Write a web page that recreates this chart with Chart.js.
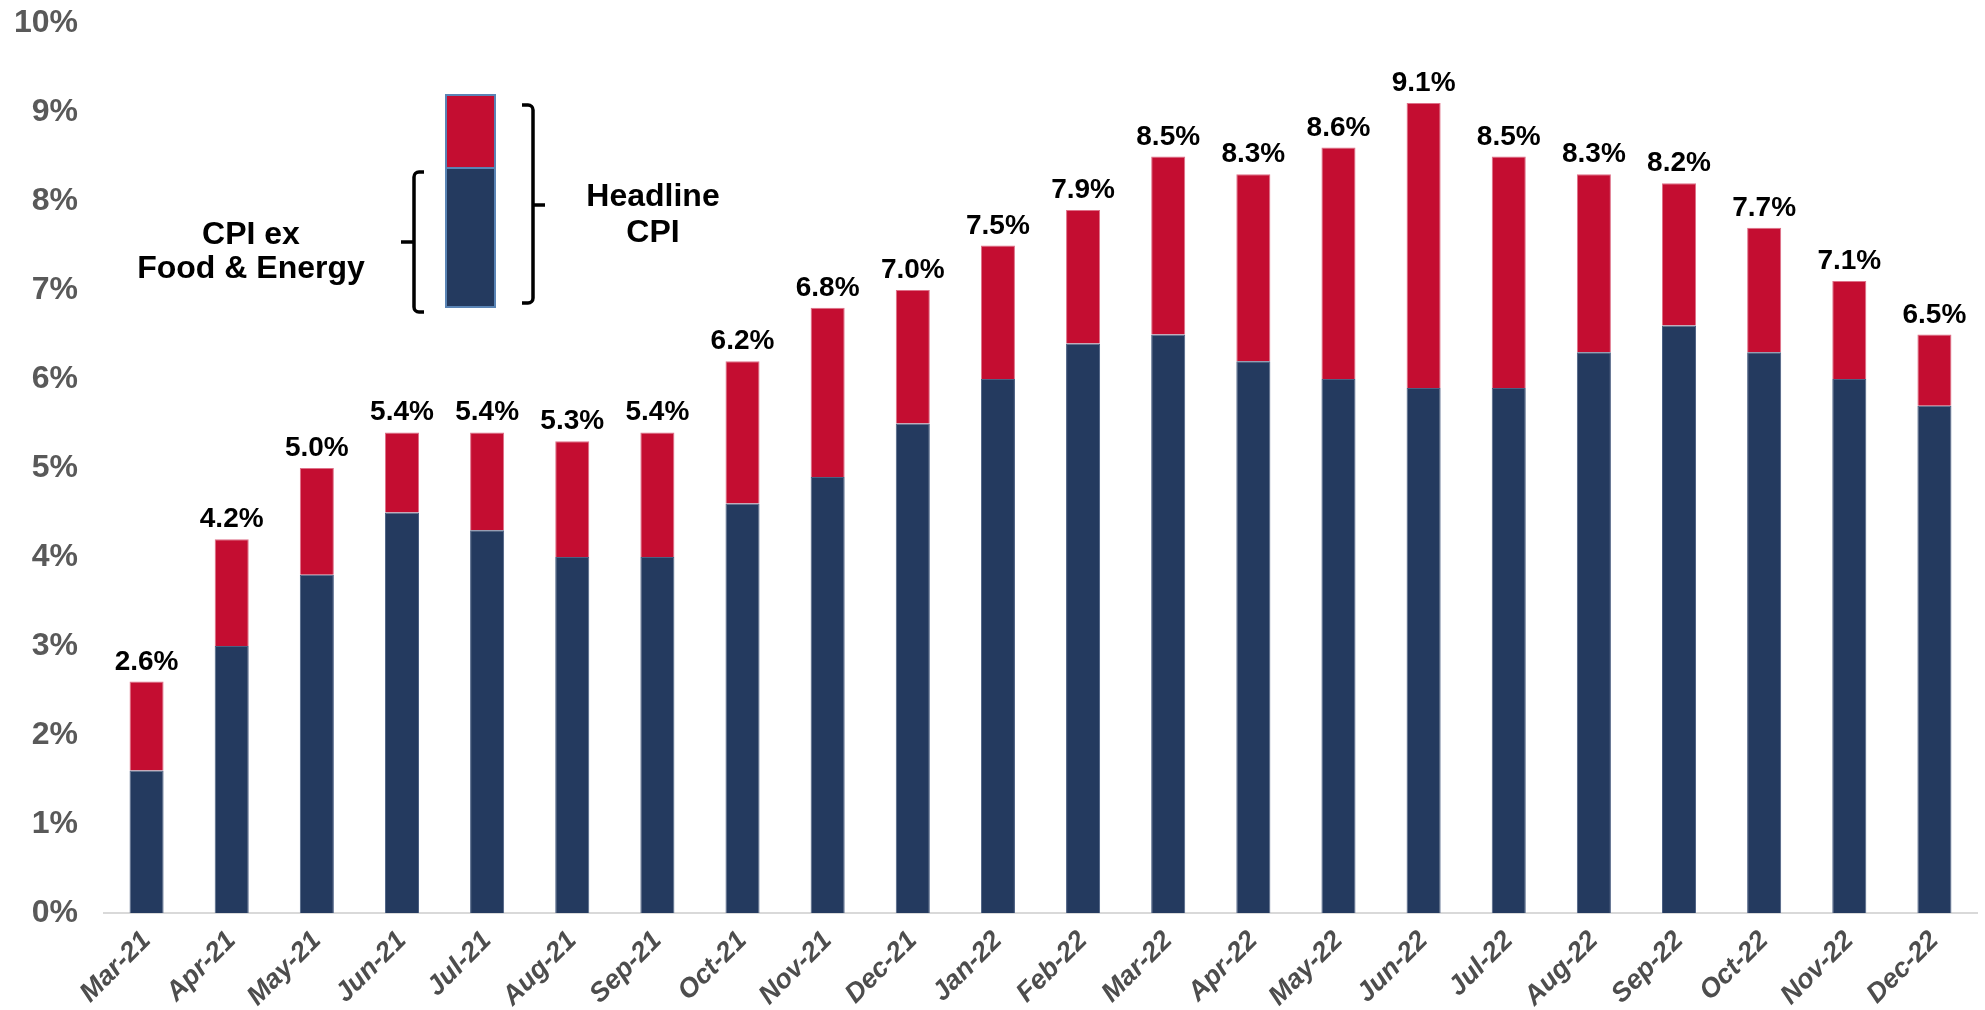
<!DOCTYPE html>
<html>
<head>
<meta charset="utf-8">
<title>Headline CPI vs Core CPI</title>
<script src="https://cdn.jsdelivr.net/npm/chart.js@4/dist/chart.umd.min.js"></script>
<style>
  html, body { margin: 0; padding: 0; background: #ffffff; }
  #wrap { width: 1985px; height: 1010px; }
</style>
</head>
<body>
<div id="wrap"><canvas id="cpiChart" width="1985" height="1010"></canvas></div>
<script>
// Monthly labels
const months = ['Mar-21', 'Apr-21', 'May-21', 'Jun-21', 'Jul-21', 'Aug-21', 'Sep-21', 'Oct-21', 'Nov-21', 'Dec-21',
  'Jan-22', 'Feb-22', 'Mar-22', 'Apr-22', 'May-22', 'Jun-22', 'Jul-22', 'Aug-22', 'Sep-22', 'Oct-22', 'Nov-22', 'Dec-22'];

// Headline CPI, y/y %
const headlineCpi = [2.6, 4.2, 5.0, 5.4, 5.4, 5.3, 5.4, 6.2, 6.8, 7.0, 7.5, 7.9, 8.5, 8.3, 8.6, 9.1, 8.5, 8.3, 8.2, 7.7, 7.1, 6.5];

// CPI ex food & energy, y/y %
const coreCpi = [1.6, 3.0, 3.8, 4.5, 4.3, 4.0, 4.0, 4.6, 4.9, 5.5, 6.0, 6.4, 6.5, 6.2, 6.0, 5.9, 5.9, 6.3, 6.6, 6.3, 6.0, 5.7];

// y axis ticks
const yTicks = [0, 1, 2, 3, 4, 5, 6, 7, 8, 9, 10];

const NAVY = '#243a5f';
const RED = '#c40d31';
const FONT = "'Liberation Sans', Arial, Helvetica, sans-serif";

// red segment = headline minus core, so the stack top sits on the headline value
const foodEnergy = headlineCpi.map((v, i) => Math.round((v - coreCpi[i]) * 10) / 10);

// headline value above each stacked bar
const headlineLabels = {
    id: 'headlineLabels',
    afterDatasetsDraw(chart) {
        const ctx = chart.ctx;
        const yScale = chart.scales.y;
        const meta = chart.getDatasetMeta(1);
        ctx.save();
        ctx.font = 'bold 28px ' + FONT;
        ctx.fillStyle = '#000000';
        ctx.textAlign = 'center';
        ctx.textBaseline = 'alphabetic';
        meta.data.forEach((bar, i) => {
            const y = yScale.getPixelForValue(headlineCpi[i]);
            ctx.fillText(headlineCpi[i].toFixed(1) + '%', bar.x, y - 12);
        });
        ctx.restore();
    }
};

// small explanatory key with braces
const bracketKey = {
    id: 'bracketKey',
    afterDraw(chart) {
        const ctx = chart.ctx;
        ctx.save();

        // mini stacked bar
        const bx = 446, bw = 49, top = 95, split = 168, bottom = 307;
        ctx.fillStyle = RED;
        ctx.fillRect(bx, top, bw, split - top);
        ctx.fillStyle = NAVY;
        ctx.fillRect(bx, split, bw, bottom - split);
        ctx.strokeStyle = '#5a84b5';
        ctx.lineWidth = 2;
        ctx.strokeRect(bx, top, bw, split - top);
        ctx.strokeRect(bx, split, bw, bottom - split);

        // braces
        ctx.strokeStyle = '#000000';
        ctx.lineWidth = 3.5;
        ctx.lineJoin = 'round';
        ctx.lineCap = 'butt';

        // left brace (core)
        ctx.beginPath();
        ctx.moveTo(424, 172);
        ctx.arcTo(414, 172, 414, 182, 5);
        ctx.lineTo(414, 302);
        ctx.arcTo(414, 312, 424, 312, 5);
        ctx.lineTo(424, 312);
        ctx.moveTo(414, 242);
        ctx.lineTo(401, 242);
        ctx.stroke();

        // right brace (headline)
        ctx.beginPath();
        ctx.moveTo(522, 105);
        ctx.arcTo(533, 105, 533, 115, 5);
        ctx.lineTo(533, 293);
        ctx.arcTo(533, 303, 522, 303, 5);
        ctx.lineTo(522, 303);
        ctx.moveTo(533, 205);
        ctx.lineTo(545, 205);
        ctx.stroke();

        ctx.font = 'bold 32px ' + FONT;
        ctx.fillStyle = '#000000';
        ctx.textAlign = 'center';
        ctx.textBaseline = 'middle';
        ctx.fillText('Headline', 653, 197);
        ctx.fillText('CPI', 653, 233);
        ctx.fillText('CPI ex', 251, 235);
        ctx.fillText('Food & Energy', 251, 269);
        ctx.restore();
    }
};

Chart.defaults.font.family = FONT;

new Chart(document.getElementById('cpiChart').getContext('2d'), {
    type: 'bar',
    data: {
        labels: months,
        datasets: [
            {
                label: 'CPI ex Food & Energy',
                data: coreCpi,
                backgroundColor: NAVY,
                borderColor: '#4b5f82',
                borderWidth: 1,
                categoryPercentage: 1,
                barPercentage: 0.4
            },
            {
                label: 'Food & Energy',
                data: foodEnergy,
                backgroundColor: RED,
                borderColor: '#de7088',
                borderWidth: 1,
                categoryPercentage: 1,
                barPercentage: 0.4
            }
        ]
    },
    options: {
        responsive: false,
        animation: false,
        devicePixelRatio: 1,
        layout: { padding: { top: 23, right: 8, bottom: 0, left: 0 } },
        plugins: {
            legend: { display: false },
            tooltip: { enabled: false }
        },
        scales: {
            x: {
                stacked: true,
                grid: { display: false, drawTicks: false },
                border: { display: true, color: '#d9d9d9', width: 2 },
                ticks: {
                    autoSkip: false,
                    minRotation: 45,
                    maxRotation: 45,
                    padding: 12,
                    color: '#4d4d4d',
                    font: { size: 27, weight: 'bold', style: 'italic' }
                },
                afterFit(scale) { scale.height = 97; }
            },
            y: {
                stacked: true,
                min: 0,
                max: 10,
                afterBuildTicks(scale) {
                    scale.ticks = yTicks.map(v => ({ value: v }));
                },
                grid: { display: false, drawTicks: false },
                border: { display: false },
                ticks: {
                    padding: 26,
                    color: '#595959',
                    font: { size: 32, weight: 'bold' },
                    callback: v => v + '%'
                },
                afterFit(scale) {
                    scale.width = 104;
                    scale.paddingTop = 0;
                    scale.paddingBottom = 0;
                }
            }
        }
    },
    plugins: [headlineLabels, bracketKey]
});
</script>
</body>
</html>
